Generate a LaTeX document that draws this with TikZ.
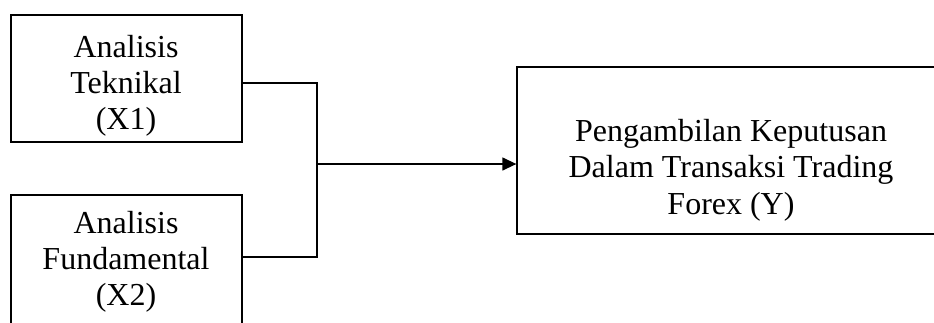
\documentclass[tikz,border=0pt]{standalone}
\usepackage{fontspec}
\setmainfont{Liberation Serif}
\usetikzlibrary{arrows.meta}
\begin{document}
\begin{tikzpicture}[x=1pt,y=-1pt,
  box/.style={draw=black,line width=1.3pt,rectangle,inner sep=0pt},
  label/.style={inner sep=0pt,align=center,font=\fontsize{32}{36}\selectfont},
  conn/.style={draw=black,line width=1.3pt},
  arr/.style={conn,-{Triangle[length=14pt,width=13pt]}}]
\useasboundingbox (0,0) rectangle (934,322);
\clip (0,0) rectangle (934,322);
\fill[white] (0,0) rectangle (934,322);
% boxes
\node[box,minimum width=231pt,minimum height=127pt] (b1) at (126.5,78.5) {};
\node[box,minimum width=231pt,minimum height=135pt] (b2) at (126.5,262.5) {};
\node[box,minimum width=428pt,minimum height=167pt] (by) at (731,150.5) {};
% texts
\node[label] (t1) at (126,85.6) {Analisis\\Teknikal\\(X1)};
\node[label] (t2) at (126,262) {Analisis\\Fundamental\\(X2)};
\node[label,font=\fontsize{32}{36.5}\selectfont] (ty) at (731,170) {Pengambilan Keputusan\\Dalam Transaksi Trading\\Forex (Y)};
% connectors
\coordinate (j1) at (317,83);
\coordinate (j2) at (317,257);
\coordinate (j) at (317,164);
\draw[conn] (b1.east |- j1) -- (j1) -- (j2) -- (b2.east |- j2);
\draw[arr] (j) -- (by.west |- j);
\end{tikzpicture}
\end{document}
